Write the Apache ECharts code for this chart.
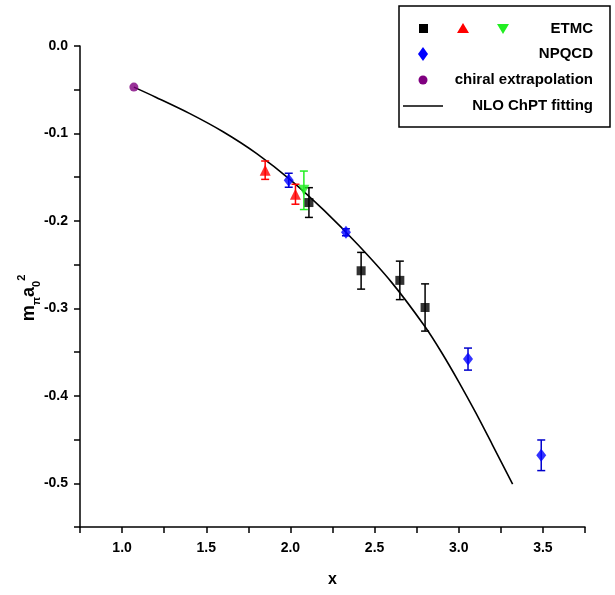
<!DOCTYPE html>
<html><head><meta charset="utf-8">
<script src="https://cdn.jsdelivr.net/npm/echarts@6/dist/echarts.min.js"></script>
<style>html,body{margin:0;padding:0;background:#fff}#c{width:615px;height:595px}</style>
</head><body><div id="c"></div>
<script>
// ETMC (black squares)
const etmcSqX = [2.11, 2.42, 2.65, 2.80];
const etmcSqY = [-0.179, -0.257, -0.268, -0.299];
const etmcSqErr = [0.017, 0.021, 0.022, 0.027];
// ETMC (red up-triangles)
const etmcTriX = [1.85, 2.03];
const etmcTriY = [-0.142, -0.1695];
const etmcTriErr = [0.0105, 0.0114];
// ETMC (green down-triangles)
const etmcDnX = [2.08];
const etmcDnY = [-0.165];
const etmcDnErr = [0.022];
// NPQCD (blue diamonds)
const npqcdX = [1.99, 2.33, 3.055, 3.49];
const npqcdY = [-0.1535, -0.213, -0.358, -0.468];
const npqcdErr = [0.008, 0.004, 0.0126, 0.0175];
// chiral extrapolation
const chiralX = [1.07];
const chiralY = [-0.047];
// NLO ChPT fitting curve
const fitX = [1.07, 1.20, 1.40, 1.60, 1.80, 2.00, 2.20, 2.40, 2.60, 2.80, 2.90, 3.00, 3.10, 3.20, 3.32];
const fitY = [-0.047, -0.0585, -0.077, -0.098, -0.123, -0.153, -0.188, -0.227, -0.270, -0.321, -0.351, -0.384, -0.419, -0.456, -0.501];

const FONT = 'Liberation Sans, Arial, sans-serif';
const zip = (a, b) => a.map((v, i) => [v, b[i]]);

function errSeries(xs, ys, es, color) {
  return {
    type: 'custom', silent: true, z: 3,
    data: xs.map((x, i) => [x, ys[i] - es[i], ys[i] + es[i]]),
    encode: { x: 0, y: [1, 2] },
    renderItem: (params, api) => {
      const lo = api.coord([api.value(0), api.value(1)]);
      const hi = api.coord([api.value(0), api.value(2)]);
      const w = 4;
      const st = { stroke: color, lineWidth: 1.5 };
      return { type: 'group', children: [
        { type: 'line', shape: { x1: lo[0], y1: lo[1], x2: hi[0], y2: hi[1] }, style: st },
        { type: 'line', shape: { x1: lo[0] - w, y1: lo[1], x2: lo[0] + w, y2: lo[1] }, style: st },
        { type: 'line', shape: { x1: hi[0] - w, y1: hi[1], x2: hi[0] + w, y2: hi[1] }, style: st }
      ]};
    }
  };
}

const chart = echarts.init(document.getElementById('c'));
const legendTextStyle = { font: 'bold 15px ' + FONT, fill: '#000', textAlign: 'right', textVerticalAlign: 'middle' };
chart.setOption({
  animation: false,
  backgroundColor: '#fff',
  grid: { left: 80, right: 30, top: 46, bottom: 68 },
  xAxis: {
    type: 'value', min: 0.75, max: 3.75, interval: 0.25,
    name: 'x', nameLocation: 'middle', nameGap: 45,
    nameTextStyle: { fontFamily: FONT, fontWeight: 'bold', fontSize: 16, color: '#000' },
    axisLine: { onZero: false, lineStyle: { color: '#000', width: 1.5 } },
    axisTick: { inside: false, length: 6, lineStyle: { color: '#000', width: 1.5 } },
    axisLabel: {
      margin: 14, color: '#000', fontFamily: FONT, fontWeight: 'bold', fontSize: 14,
      formatter: v => (Math.abs(v * 2 - Math.round(v * 2)) < 1e-6 ? v.toFixed(1) : '')
    },
    splitLine: { show: false }
  },
  yAxis: {
    type: 'value', min: -0.55, max: 0, interval: 0.05,
    axisLine: { onZero: false, lineStyle: { color: '#000', width: 1.5 } },
    axisTick: { inside: false, length: 6, lineStyle: { color: '#000', width: 1.5 } },
    axisLabel: {
      margin: 12, color: '#000', fontFamily: FONT, fontWeight: 'bold', fontSize: 14,
      formatter: v => {
        const k = Math.round(v * 100);
        if (k % 10 !== 0) return '';
        return k === 0 ? '0.0' : (k / 100).toFixed(1);
      }
    },
    splitLine: { show: false }
  },
  series: [
    { type: 'line', name: 'NLO ChPT fitting', data: zip(fitX, fitY), smooth: 0.3, showSymbol: false,
      lineStyle: { color: '#000', width: 1.6 }, z: 2, silent: true },
    errSeries(etmcTriX, etmcTriY, etmcTriErr, '#ff0000'),
    errSeries(npqcdX, npqcdY, npqcdErr, '#0000cc'),
    errSeries(etmcDnX, etmcDnY, etmcDnErr, '#22ee22'),
    errSeries(etmcSqX, etmcSqY, etmcSqErr, '#000000'),
    { type: 'scatter', data: zip(etmcTriX, etmcTriY), symbol: 'triangle', symbolSize: 11,
      itemStyle: { color: '#ff0000' }, z: 4 },
    { type: 'scatter', data: zip(npqcdX, npqcdY), symbol: 'diamond', symbolSize: [10, 13],
      itemStyle: { color: '#0000ff' }, z: 4 },
    { type: 'scatter', data: zip(etmcDnX, etmcDnY), symbol: 'triangle', symbolRotate: 180, symbolSize: 11,
      itemStyle: { color: '#22ee22' }, z: 4 },
    { type: 'scatter', data: zip(etmcSqX, etmcSqY), symbol: 'rect', symbolSize: 9,
      itemStyle: { color: '#000' }, z: 5 },
    { type: 'scatter', data: zip(chiralX, chiralY), symbol: 'circle', symbolSize: 9,
      itemStyle: { color: '#800080' }, z: 5 }
  ],
  graphic: [
    { type: 'text', x: 29, y: 298, rotation: Math.PI / 2, z: 11,
      style: {
        text: '{m|m}{s|π}{m|a}{s|0}{p|2}', align: 'center', verticalAlign: 'middle', fill: '#000',
        rich: {
          m: { fontFamily: FONT, fontWeight: 'bold', fontSize: 18, lineHeight: 26, fill: '#000', verticalAlign: 'middle' },
          s: { fontFamily: FONT, fontWeight: 'bold', fontSize: 11, lineHeight: 26, fill: '#000', verticalAlign: 'bottom' },
          p: { fontFamily: FONT, fontWeight: 'bold', fontSize: 11, lineHeight: 26, fill: '#000', verticalAlign: 'top' }
        }
      } },
    { type: 'rect', shape: { x: 399, y: 6, width: 211, height: 121 },
      style: { fill: '#fff', stroke: '#000', lineWidth: 1.5 }, z: 10 },
    { type: 'rect', shape: { x: 419, y: 24, width: 9, height: 9 }, style: { fill: '#000' }, z: 11 },
    { type: 'polygon', shape: { points: [[463, 23], [469, 33], [457, 33]] }, style: { fill: '#ff0000' }, z: 11 },
    { type: 'polygon', shape: { points: [[497, 24], [509, 24], [503, 34]] }, style: { fill: '#22ee22' }, z: 11 },
    { type: 'text', x: 593, y: 29, style: Object.assign({ text: 'ETMC' }, legendTextStyle), z: 11 },
    { type: 'polygon', shape: { points: [[423, 47], [428, 54], [423, 61], [418, 54]] }, style: { fill: '#0000ff' }, z: 11 },
    { type: 'text', x: 593, y: 54, style: Object.assign({ text: 'NPQCD' }, legendTextStyle), z: 11 },
    { type: 'circle', shape: { cx: 423, cy: 80, r: 4.5 }, style: { fill: '#800080' }, z: 11 },
    { type: 'text', x: 593, y: 80, style: Object.assign({ text: 'chiral extrapolation' }, legendTextStyle), z: 11 },
    { type: 'line', shape: { x1: 403, y1: 106, x2: 443, y2: 106 }, style: { stroke: '#000', lineWidth: 1.5 }, z: 11 },
    { type: 'text', x: 593, y: 106, style: Object.assign({ text: 'NLO ChPT fitting' }, legendTextStyle), z: 11 }
  ]
});
</script></body></html>
